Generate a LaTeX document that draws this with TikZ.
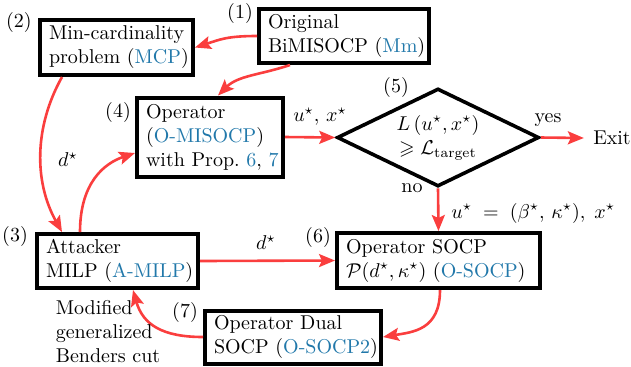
\documentclass[tikz,border=0pt]{standalone}
\usepackage{amsmath,amssymb}
\usetikzlibrary{arrows.meta,shapes.geometric}
\definecolor{arrred}{RGB}{250,62,62}
\definecolor{lnk}{RGB}{33,120,170}
\newcommand{\lk}[1]{\textcolor{lnk}{#1}}
\exhyphenpenalty=10000
\hyphenpenalty=10000
\begin{document}
\begin{tikzpicture}[x=0.5pt,y=-0.5pt,
  box/.style={draw, line width=2pt, align=left, inner xsep=4.5pt, inner ysep=2pt},
  flow/.style={draw=arrred, line width=1.3pt, -{Stealth[length=8pt,width=6.5pt,inset=1.5pt]}},
  stepnum/.style={inner sep=0pt},
  lab/.style={inner sep=0pt}]
\useasboundingbox (0,0) rectangle (631,366);

% boxes
\node[box, minimum width=85pt, minimum height=27pt, text width=76pt] (n1) at (344,36) {Original\\BiMISOCP~(\lk{Mm})};
\node[box, minimum width=76.5pt, minimum height=27.5pt, text width=67.5pt] (n2) at (116.5,47.5) {Min-cardinality\\problem~(\lk{MCP})};
\node[box, minimum width=73pt, minimum height=39.5pt, text width=64pt] (n4) at (210,137) {Operator\\(\lk{O-MISOCP})\\with~Prop.~\lk{6},~\lk{7}};
\node[box, minimum width=80.5pt, minimum height=27pt, text width=71.5pt] (n3) at (117.5,261) {Attacker\\MILP~(\lk{A-MILP})};
\node[box, minimum width=101.5pt, minimum height=27.5pt, text width=92.5pt] (n6) at (438.5,260.5) {Operator~SOCP\\$\mathcal{P}(d^\star, \kappa^\star)$~(\lk{O-SOCP})};
\node[box, minimum width=88pt, minimum height=26.5pt, text width=79pt] (n7) at (293,337) {Operator~Dual\\SOCP~(\lk{O-SOCP2})};
\node[draw, diamond, aspect=2, line width=1.8pt, minimum width=101pt, minimum height=49pt, inner sep=0pt, align=center] (dia) at (438,137.5) {$L\left(u^\star, x^\star\right)$\\$\geqslant \mathcal{L}_{\mathrm{target}}$};
\node[inner sep=4.5pt] (exit) at (612,138) {Exit};

% step numbers
\node[stepnum] (s1) at (240,13) {(1)};
\node[stepnum] (s2) at (19,22) {(2)};
\node[stepnum] (s3) at (15,236) {(3)};
\node[stepnum] (s4) at (118,112) {(4)};
\node[stepnum] (s5) at (396,87) {(5)};
\node[stepnum] (s6) at (318,237) {(6)};
\node[stepnum] (s7) at (185,312) {(7)};

% connectors
\draw[flow] (n1.west) .. controls +(-30,0) and +(25,-8) .. (n2.east);
\draw[flow] ([xshift=-27pt]n1.south) .. controls +(-30,10) and +(20,-20) .. ([xshift=4pt]n4.north);
\draw[flow] ([xshift=-27.25pt]n2.south) .. controls +(-28,50) and +(-28,-50) .. ([xshift=-27.75pt]n3.north);
\draw[flow] ([xshift=-18.75pt]n3.north) .. controls +(0,-50) and +(-30,10) .. ([yshift=-8pt]n4.west);
\draw[flow] (n4.east) -- (dia.west);
\draw[flow] (dia.east) -- (exit.west);
\draw[flow] (dia.south) -- (n6.north);
\draw[flow] (n3.east) -- (n6.west);
\draw[flow] ([xshift=0.75pt]n6.south) .. controls +(0,40) and +(30,-5) .. (n7.east);
\draw[flow] (n7.west) .. controls +(-40,0) and +(10,35) .. ([xshift=7.75pt]n3.south);

% labels
\node[lab] (l1) at (320,117) {$u^\star,\, x^\star$};
\node[lab] (l2) at (68,160) {$d^\star$};
\node[lab] (l3) at (266,243) {$d^\star$};
\node[lab] (l4) at (548,120) {yes};
\node[lab] (l5) at (412,188) {no};
\node[lab, anchor=west] (l6) at (451,213) {$u^\star \;=\; (\beta^\star,\, \kappa^\star),\; x^\star$};
\node[lab, align=left] (l7) at (108,332) {Modified\\generalized\\Benders cut};
\end{tikzpicture}
\end{document}
